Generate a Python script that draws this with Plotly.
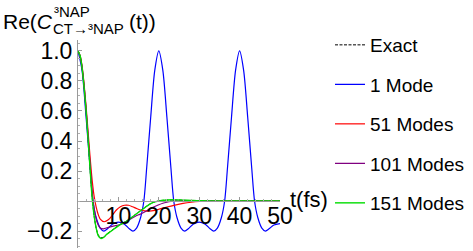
import plotly.graph_objects as go

# ---------------- data ----------------
t_exact = [0, 0.5, 1, 1.5, 2, 2.5, 3, 3.5, 4, 4.5, 5, 5.7, 6.5, 7, 8, 9, 10, 11, 12, 13, 14, 15, 16, 17, 18, 19, 20, 21, 22, 24, 26, 28, 30, 35, 40, 45, 50]
v_exact = [1.0, 0.97, 0.89, 0.76, 0.6, 0.41, 0.21, 0.03, -0.1, -0.18, -0.225, -0.245, -0.237, -0.223, -0.203, -0.183, -0.163, -0.148, -0.133, -0.114, -0.094, -0.074, -0.054, -0.034, -0.017, -0.006, 0.0, 0.004, 0.006, 0.007, 0.005, 0.003, 0.002, 0.0, 0.0, 0.0, 0.0]

t_1 = [0, 1, 2, 3, 3.7, 4.5, 5.5, 6.4, 7.3, 8.5, 10, 11.5, 12.7, 13.6, 14.5, 15.5, 16.3, 17, 18, 19, 20,
       21, 22, 23, 23.7, 24.5, 25.5, 26.4, 27.3, 28.5, 30, 31.5, 32.7, 33.6, 34.5, 35.5, 36.3, 37, 38, 39, 40,
       41, 42, 43, 43.7, 44.5, 45.5, 46.4, 47.3, 48.5, 50]
v_1 = [1.0, 0.87, 0.56, 0.22, 0.0, -0.11, -0.18, -0.2, -0.185, -0.155, -0.14, -0.155, -0.185, -0.2, -0.18, -0.11, 0.0, 0.22, 0.56, 0.87, 1.0,
       0.87, 0.56, 0.22, 0.0, -0.11, -0.18, -0.2, -0.185, -0.155, -0.14, -0.155, -0.185, -0.2, -0.18, -0.11, 0.0, 0.22, 0.56, 0.87, 1.0,
       0.87, 0.56, 0.22, 0.0, -0.11, -0.18, -0.2, -0.185, -0.16, -0.15]

t_51 = [0, 0.5, 1, 1.5, 2, 2.5, 3, 3.5, 4, 4.5, 5, 5.5, 6.5, 7.5, 8.5, 9.5, 10.5, 11.5, 12.5, 13.5, 14.5, 15.5, 16.5, 17.5, 19, 20, 22, 24, 26, 28, 30, 33, 35, 40, 45, 50]
v_51 = [1.0, 0.97, 0.9, 0.78, 0.63, 0.46, 0.29, 0.14, 0.03, -0.04, -0.09, -0.12, -0.138, -0.125, -0.095, -0.06, -0.038, -0.028, -0.028, -0.038, -0.05, -0.06, -0.066, -0.067, -0.062, -0.055, -0.04, -0.027, -0.016, -0.008, -0.003, 0.0, 0.0, 0.0, 0.0, 0.0]

t_101 = [0, 0.5, 1, 1.5, 2, 2.5, 3, 3.5, 4, 4.5, 5, 5.5, 6.3, 7, 8, 9, 10, 11, 12, 13, 14, 15, 16, 17, 18, 19, 20, 21, 22, 23, 24, 26, 30, 35, 40, 45, 50]
v_101 = [1.0, 0.97, 0.89, 0.77, 0.61, 0.43, 0.24, 0.06, -0.05, -0.12, -0.16, -0.18, -0.185, -0.18, -0.172, -0.166, -0.16, -0.15, -0.135, -0.12, -0.105, -0.092, -0.08, -0.065, -0.05, -0.037, -0.025, -0.015, -0.008, -0.003, 0.0, 0.002, 0.001, 0.0, 0.0, 0.0, 0.0]

t_151 = [0, 0.5, 1, 1.5, 2, 2.5, 3, 3.5, 4, 4.5, 5, 5.7, 6.5, 7, 8, 9, 10, 11, 12, 13, 14, 15, 16, 17, 18, 19, 20, 21, 22, 24, 26, 28, 30, 35, 40, 45, 50]
v_151 = [1.0, 0.97, 0.89, 0.76, 0.6, 0.41, 0.21, 0.02, -0.1, -0.18, -0.23, -0.25, -0.24, -0.225, -0.205, -0.185, -0.165, -0.15, -0.135, -0.115, -0.095, -0.075, -0.055, -0.035, -0.017, -0.006, 0.0, 0.005, 0.007, 0.008, 0.006, 0.004, 0.002, 0.0, 0.0, 0.0, 0.0]

x_tickvals = [10, 20, 30, 40, 50]
x_ticktext = ["10", "20", "30", "40", "50"]
y_tickvals = [-0.2, 0.2, 0.4, 0.6, 0.8, 1.0]
y_ticktext = ["\u22120.2", "0.2", "0.4", "0.6", "0.8", "1.0"]

# ---------------- figure ----------------
FONT = "Liberation Sans, Arial, sans-serif"
W, H = 473, 251
L, R, T, B = 78, 193, 40, 3
YMIN, YMAX = -0.313, 1.073

pw = W - L - R
ph = H - T - B

def px(x):
    return (x - L) / pw

def py(y):
    return (H - B - y) / ph

fig = go.Figure()
series = [
    ("Exact", t_exact, v_exact, "#000000", "3px,1.5px", 1.0),
    ("1 Mode", t_1, v_1, "#0000ff", "solid", 1.2),
    ("51 Modes", t_51, v_51, "#ff0000", "solid", 1.2),
    ("101 Modes", t_101, v_101, "#800080", "solid", 1.2),
    ("151 Modes", t_151, v_151, "#00dd00", "solid", 1.4),
]
legend_y = [45, 84.5, 124, 163.5, 203]
legend_ids = ["legend", "legend2", "legend3", "legend4", "legend5"]
for i, (name, tx, vy, col, dash, w) in enumerate(series):
    fig.add_trace(go.Scatter(
        x=tx, y=vy, mode="lines", name=name, legend=legend_ids[i],
        line=dict(color=col, dash=dash, width=w, shape="spline", smoothing=0.8),
    ))

layout_legends = {}
for i, lid in enumerate(legend_ids):
    layout_legends[lid] = dict(
        x=px(330), y=py(legend_y[i]), xanchor="left", yanchor="middle",
        xref="paper", yref="paper",
        font=dict(size=19, family=FONT, color="black"),
        bgcolor="rgba(0,0,0,0)", borderwidth=0,
    )

fig.update_layout(
    width=W, height=H,
    margin=dict(l=L, r=R, t=T, b=B, autoexpand=False),
    paper_bgcolor="white", plot_bgcolor="white",
    font=dict(family=FONT, size=19, color="black"),
    showlegend=True,
    xaxis=dict(
        range=[0, 50], anchor="free", position=(0 - YMIN) / (YMAX - YMIN),
        showgrid=False, zeroline=False, showline=True, linecolor="#9a9a9a", linewidth=1,
        ticks="inside", ticklen=4, tickcolor="#9a9a9a", tickwidth=1,
        tickvals=x_tickvals, ticktext=x_ticktext, ticklabelstandoff=-6,
        tickfont=dict(size=23, family=FONT, color="black"),
        minor=dict(ticks="inside", ticklen=2, tickcolor="#b0b0b0", dtick=2, showgrid=False),
        automargin=False,
    ),
    yaxis=dict(
        range=[YMIN, YMAX],
        showgrid=False, zeroline=False, showline=True, linecolor="#9a9a9a", linewidth=1,
        ticks="inside", ticklen=4, tickcolor="#9a9a9a", tickwidth=1,
        tickvals=y_tickvals, ticktext=y_ticktext,
        tickfont=dict(size=23, family=FONT, color="black"),
        minor=dict(ticks="inside", ticklen=2, tickcolor="#b0b0b0", dtick=0.05, showgrid=False),
        automargin=False,
    ),
    **layout_legends,
)

ann = [
    dict(text="Re(<i>C</i>", x=px(1), y=py(21), size=21),
    dict(text="³NAP", x=px(52), y=py(11), size=15),
    dict(text="CT→³NAP", x=px(51), y=py(29), size=15),
    dict(text="(t))", x=px(127), y=py(21), size=21),
    dict(text="t(fs)", x=px(288), y=py(199), size=22),
]
for a in ann:
    fig.add_annotation(
        text=a["text"], x=a["x"], y=a["y"], xref="paper", yref="paper",
        xanchor="left", yanchor="middle", showarrow=False,
        font=dict(size=a["size"], family=FONT, color="black"),
    )

fig.write_html(
    "out.html",
    config={"displayModeBar": False},
    post_script="document.body.style.margin='0';document.body.style.overflow='hidden';",
)
